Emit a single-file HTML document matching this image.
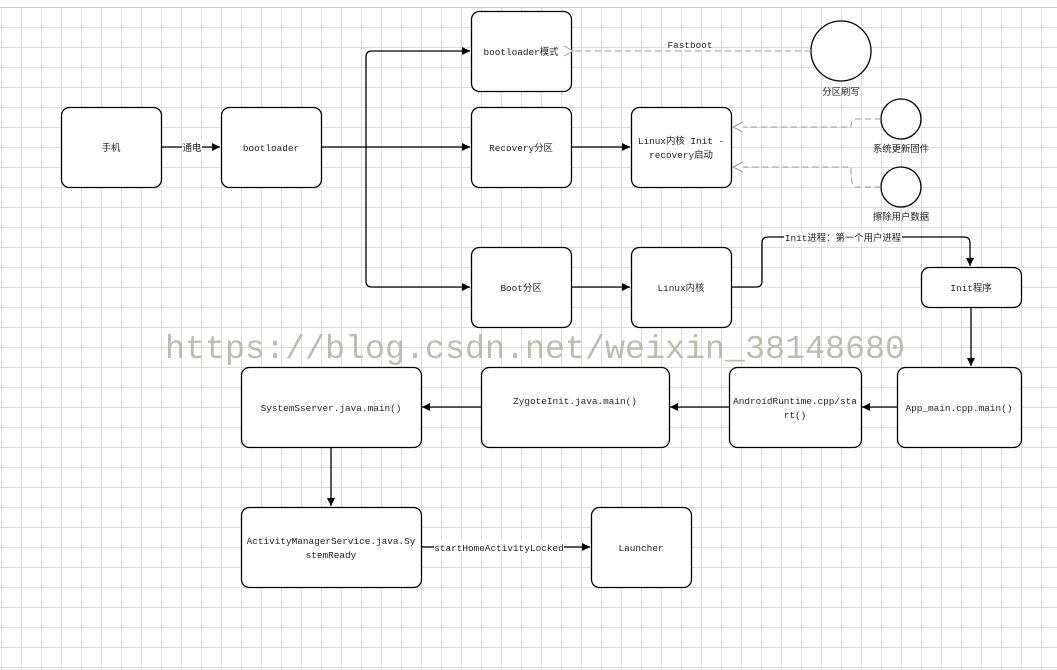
<!DOCTYPE html>
<html><head><meta charset="utf-8"><style>
html,body{margin:0;padding:0;background:#fff;}
svg{display:block;}
text{font-family:"Liberation Mono","Noto Sans CJK SC",monospace;font-size:9.4px;fill:#222;}
</style></head><body>
<svg width="1057" height="670" xmlns="http://www.w3.org/2000/svg">
<defs>
<pattern id="g" x="1" y="7" width="20" height="20" patternUnits="userSpaceOnUse">
<path d="M0 0.5H20M0.5 0V20" stroke="#dcdcdc" stroke-width="1" fill="none"/>
</pattern>
<marker id="a" markerWidth="10" markerHeight="10" refX="9" refY="5" orient="auto" markerUnits="userSpaceOnUse"><path d="M1 1L9 5L1 9Z" fill="#000"/></marker>
<marker id="o" markerWidth="12" markerHeight="12" refX="1" refY="6" orient="auto" markerUnits="userSpaceOnUse"><path d="M10 1L1 6L10 11" fill="#fff" stroke="#999"/></marker>
</defs>
<rect x="0" y="7" width="1057" height="663" fill="url(#g)"/>
<line x1="0" y1="7.5" x2="1057" y2="7.5" stroke="#ccc"/>
<g fill="#fff" stroke="#000" stroke-width="1.3">
<rect x="61.5" y="107.5" width="100" height="80" rx="8"/>
<rect x="221.5" y="107.5" width="100" height="80" rx="8"/>
<rect x="471.5" y="11.5" width="100" height="80" rx="8"/>
<rect x="471.5" y="107.5" width="100" height="80" rx="8"/>
<rect x="631.5" y="107.5" width="100" height="80" rx="8"/>
<rect x="471.5" y="247.5" width="100" height="80" rx="8"/>
<rect x="631.5" y="247.5" width="100" height="80" rx="8"/>
<rect x="921.5" y="267.5" width="100" height="40" rx="8"/>
<rect x="897.5" y="367.5" width="124" height="80" rx="8"/>
<rect x="729.5" y="367.5" width="132" height="80" rx="8"/>
<rect x="481.5" y="367.5" width="188" height="80" rx="8"/>
<rect x="241.5" y="367.5" width="180" height="80" rx="8"/>
<rect x="241.5" y="507.5" width="180" height="80" rx="8"/>
<rect x="591.5" y="507.5" width="100" height="80" rx="8"/>
<circle cx="841" cy="51" r="30"/>
<circle cx="901" cy="119" r="20"/>
<circle cx="901" cy="187" r="20"/>
</g>
<g stroke="#000" stroke-width="1.3" fill="none" marker-end="url(#a)">
<path d="M161 147H220"/>
<path d="M321 147H470"/>
<path d="M366 147V57Q366 51 372 51H470"/>
<path d="M366 147V281Q366 287 372 287H470"/>
<path d="M571 147H630"/>
<path d="M571 287H630"/>
<path d="M731 287H756Q762 287 762 281V243Q762 237 768 237H964Q970 237 970 243V266"/>
<path d="M971 307V366"/>
<path d="M897 407H862"/>
<path d="M729 407H670"/>
<path d="M481 407H422"/>
<path d="M331 447V506"/>
<path d="M421 547H590"/>
</g>
<g stroke="#999" stroke-width="1" fill="none" stroke-dasharray="6,4">
<path d="M811 51H573" marker-end="url(#o)"/>
<path d="M881 119H855Q851 119 851 127H733" />
<path d="M881 187H855Q851 187 851 167H733"/>
</g>
<path d="M743 122L733 127L743 132" fill="#fff" stroke="#999"/>
<path d="M743 162L733 167L743 172" fill="#fff" stroke="#999"/>
<rect x="182" y="141" width="20" height="12" fill="#fff"/>
<rect x="668" y="39" width="44" height="10" fill="#fff"/>
<rect x="784" y="231" width="118" height="12" fill="#fff"/>
<rect x="434" y="541" width="130" height="12" fill="#fff"/>
<g text-anchor="middle">
<text x="111" y="151">手机</text>
<text x="192" y="151">通电</text>
<text x="271" y="151">bootloader</text>
<text x="521" y="55">bootloader模式</text>
<text x="690" y="48" fill="#555">Fastboot</text>
<text x="521" y="151">Recovery分区</text>
<text x="681" y="144">Linux内核 Init -</text>
<text x="681" y="158">recovery启动</text>
<text x="841" y="95">分区刷写</text>
<text x="901" y="152">系统更新固件</text>
<text x="901" y="220">擦除用户数据</text>
<text x="521" y="291">Boot分区</text>
<text x="681" y="291">Linux内核</text>
<text x="843" y="241">Init进程：第一个用户进程</text>
<text x="971" y="291">Init程序</text>
<text x="959" y="411">App_main.cpp.main()</text>
<text x="795" y="404">AndroidRuntime.cpp/sta</text>
<text x="795" y="418">rt()</text>
<text x="575" y="404">ZygoteInit.java.main()</text>
<text x="331" y="411">SystemSserver.java.main()</text>
<text x="331" y="544">ActivityManagerService.java.Sy</text>
<text x="331" y="558">stemReady</text>
<text x="499" y="551">startHomeActivityLocked</text>
<text x="641" y="551">Launcher</text>
</g>
<text x="165" y="358" textLength="740" lengthAdjust="spacingAndGlyphs" style="font-size:33.5px;fill:#bcbcb2;font-family:'Liberation Mono',monospace">https://blog.csdn.net/weixin_38148680</text>
</svg>
</body></html>
